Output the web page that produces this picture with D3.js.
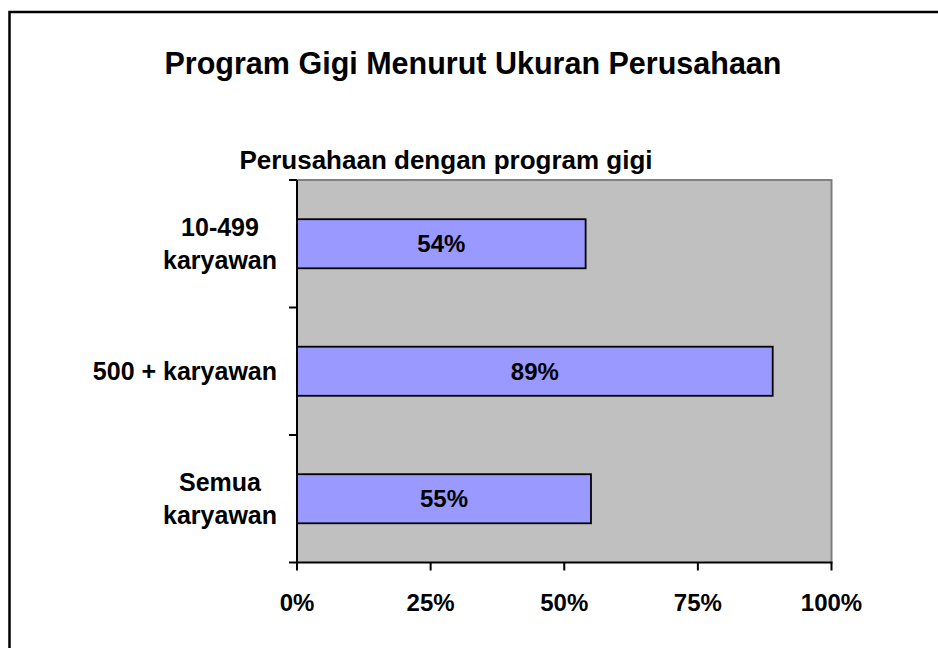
<!DOCTYPE html>
<html>
<head>
<meta charset="utf-8">
<script src="https://cdn.jsdelivr.net/npm/d3@7"></script>
<style>
  html, body { margin: 0; padding: 0; background: #fff; }
  svg text { font-family: "Liberation Sans", Arial, sans-serif; font-weight: bold; fill: #000; }
</style>
</head>
<body>
<div id="chart"></div>
<script>
const width = 938
const height = 648

// data
const categories = [["10-499", "karyawan"], ["500 + karyawan"], ["Semua", "karyawan"]]
const values = [54, 89, 55]
const xTicks = [0, 25, 50, 75, 100]
const title = "Program Gigi Menurut Ukuran Perusahaan"
const subtitle = "Perusahaan dengan program gigi"

const plot = { left: 297, top: 180, right: 831.5, bottom: 562.5 }

const svg = d3.select("#chart").append("svg").attr("width", width).attr("height", height)

// outer frame (runs past the right and bottom edges)
svg.append("rect")
    .attr("x", 9.5).attr("y", 12)
    .attr("width", 1000).attr("height", 1000)
    .attr("fill", "none").attr("stroke", "#000").attr("stroke-width", 2.5)

svg.append("text")
    .attr("x", 473).attr("y", 73.5)
    .attr("text-anchor", "middle")
    .style("font-size", "30.5px")
    .text(title)

svg.append("text")
    .attr("x", 446).attr("y", 169)
    .attr("text-anchor", "middle")
    .style("font-size", "26px")
    .text(subtitle)

// escalas
const keys = categories.map(c => c.join(" "))
const x = d3.scaleLinear().domain([0, 100]).range([plot.left, plot.right])
const y = d3.scaleBand().domain(keys).range([plot.top, plot.bottom]).padding(0)
const barRatio = 0.385

// plot area
svg.append("rect")
    .attr("x", plot.left).attr("y", plot.top)
    .attr("width", plot.right - plot.left).attr("height", plot.bottom - plot.top)
    .attr("fill", "#C0C0C0")
svg.append("path")
    .attr("d", `M${plot.left},${plot.top}H${plot.right}V${plot.bottom}`)
    .attr("fill", "none").attr("stroke", "#808080").attr("stroke-width", 2)

// bars
const bh = y.bandwidth() * barRatio
const bars = svg.append("g").selectAll("g").data(values).enter().append("g")
bars.append("rect")
    .attr("x", x(0))
    .attr("y", (d, i) => y(keys[i]) + (y.bandwidth() - bh) / 2)
    .attr("width", d => x(d) - x(0))
    .attr("height", bh)
    .attr("fill", "#9999FF").attr("stroke", "#000").attr("stroke-width", 1.8)
bars.append("text")
    .attr("x", d => (x(0) + x(d)) / 2)
    .attr("y", (d, i) => y(keys[i]) + y.bandwidth() / 2 + 8.5)
    .attr("text-anchor", "middle")
    .style("font-size", "24px")
    .text(d => d + "%")

// ejes
const axisG = svg.append("g").attr("stroke", "#000").attr("stroke-width", 2)
axisG.append("line").attr("x1", plot.left).attr("x2", plot.left).attr("y1", plot.top).attr("y2", plot.bottom + 1)
axisG.append("line").attr("x1", plot.left - 1).attr("x2", plot.right + 1).attr("y1", plot.bottom).attr("y2", plot.bottom)

const yTickPos = keys.map(k => y(k)).concat([y(keys[keys.length - 1]) + y.bandwidth()])
axisG.selectAll(".yt").data(yTickPos).enter().append("line")
    .attr("x1", plot.left - 8).attr("x2", plot.left).attr("y1", d => d).attr("y2", d => d)
axisG.selectAll(".xt").data(xTicks).enter().append("line")
    .attr("x1", d => x(d)).attr("x2", d => x(d)).attr("y1", plot.bottom).attr("y2", plot.bottom + 8)

svg.append("g").selectAll("text").data(xTicks).enter().append("text")
    .attr("x", d => x(d)).attr("y", 611)
    .attr("text-anchor", "middle")
    .style("font-size", "24px")
    .text(d => d + "%")

// category labels: block right-aligned at axis, lines centred in block
const catG = svg.append("g")
categories.forEach((lines, i) => {
    const cy = y(keys[i]) + y.bandwidth() / 2
    const t = catG.append("text").attr("text-anchor", "middle").style("font-size", "25px")
    const spans = lines.map((ln, j) => t.append("tspan")
        .attr("y", lines.length === 1 ? cy + 8.5 : cy - 8 + j * 33)
        .text(ln))
    const w = d3.max(spans, s => s.node().getComputedTextLength())
    const cx = plot.left - 20 - w / 2
    spans.forEach(s => s.attr("x", cx))
})
</script>
</body>
</html>
